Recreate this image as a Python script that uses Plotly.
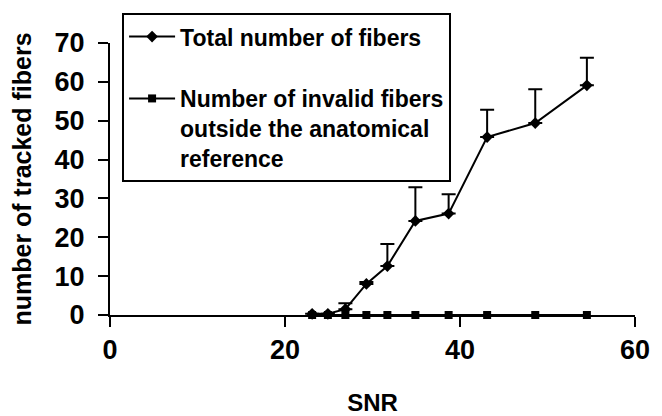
import plotly.graph_objects as go

snr = [23.1, 24.9, 26.9, 29.3, 31.7, 34.9, 38.7, 43.1, 48.6, 54.5]
total_fibers = [0.3, 0.3, 1.5, 8.0, 12.6, 24.2, 26.1, 45.8, 49.4, 59.1]
total_err = [0, 0, 1.5, 0.5, 5.7, 8.7, 5.0, 7.0, 8.7, 7.1]
invalid_fibers = [0, 0, 0, 0, 0, 0, 0, 0, 0, 0]

FONT = "Liberation Sans, Arial, sans-serif"

fig = go.Figure()
fig.add_trace(go.Scatter(
    x=snr, y=total_fibers, mode="lines+markers",
    name="Total number of fibers",
    line=dict(color="black", width=2),
    marker=dict(symbol="diamond", size=9, color="black"),
    error_y=dict(type="data", array=total_err, symmetric=False,
                 arrayminus=[0] * len(total_err), color="black",
                 thickness=2, width=7),
    cliponaxis=False, legendgroup="a",
))
fig.add_trace(go.Scatter(
    x=snr, y=invalid_fibers, mode="lines+markers",
    name="Number of invalid fibers<br>outside the anatomical<br>reference",
    line=dict(color="black", width=2),
    marker=dict(symbol="square", size=8, color="black"),
    cliponaxis=False, legendgroup="b",
))

fig.update_layout(
    width=662, height=416,
    margin=dict(l=110, r=27, t=43, b=101, autoexpand=False),
    paper_bgcolor="white", plot_bgcolor="white",
    font=dict(family=FONT, color="black"),
    showlegend=True,
    legend=dict(
        x=0.023, y=1.11, xanchor="left", yanchor="top",
        bordercolor="black", borderwidth=2, bgcolor="white",
        font=dict(family=FONT, size=23, color="black", weight="bold"),
        tracegroupgap=29, valign="top", itemwidth=46,
    ),
    xaxis=dict(
        range=[0, 60], tickvals=[0, 20, 40, 60],
        showline=True, linecolor="black", linewidth=2,
        ticks="outside", ticklen=10, tickwidth=2, tickcolor="black",
        showgrid=False, zeroline=False, automargin=False,
        tickfont=dict(family=FONT, size=27, color="black", weight="bold"),
        title=dict(text="SNR", standoff=40,
                   font=dict(family=FONT, size=24, color="black", weight="bold")),
    ),
    yaxis=dict(
        range=[0, 70], tickvals=[0, 10, 20, 30, 40, 50, 60, 70],
        showline=True, linecolor="black", linewidth=2,
        ticks="outside", ticklen=10, tickwidth=2, tickcolor="black",
        showgrid=False, zeroline=False, automargin=False,
        tickfont=dict(family=FONT, size=27, color="black", weight="bold"),
        ticklabelstandoff=8,
        title=dict(text="number of tracked fibers", standoff=16,
                   font=dict(family=FONT, size=25, color="black", weight="bold")),
    ),
)

fig.write_html("out.html")
